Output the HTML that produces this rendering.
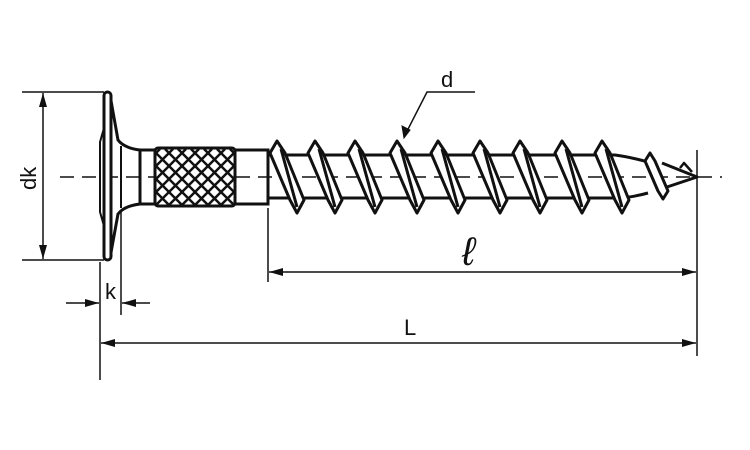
<!DOCTYPE html>
<html><head><style>
html,body{margin:0;padding:0;background:#fff;width:750px;height:450px;overflow:hidden}
svg{display:block}
text{font-family:"Liberation Sans",sans-serif;fill:#111}
</style></head><body>
<svg width="750" height="450" viewBox="0 0 750 450" xmlns="http://www.w3.org/2000/svg">
<defs>
<clipPath id="kc"><rect x="156" y="149" width="78" height="57"/></clipPath>
<marker id="a" viewBox="0 0 14 8" refX="14" refY="4" markerWidth="14" markerHeight="8" orient="auto" markerUnits="userSpaceOnUse"><path d="M0,0 L14,4 L0,8 Z" fill="#111"/></marker>
</defs>
<g stroke="#111" fill="none">
<line x1="60" y1="177" x2="722" y2="177" stroke-width="1.5" stroke-dasharray="14,8"/>
<!-- head -->
<path d="M110,95 L118,140 Q124,148 140,150" stroke-width="3"/>
<path d="M110,258 L118,214 Q124,206 140,204" stroke-width="3"/>
<line x1="121" y1="146" x2="121" y2="208" stroke-width="2"/>
<path d="M104,128 L100,142 L100,212 L104,226" stroke-width="2"/>
<rect x="104" y="92" width="7" height="168" rx="3.5" stroke-width="3" fill="#fff"/>
<!-- shank -->
<path d="M140,150 L155,150 M140,204 L155,204 M140,150 L140,204" stroke-width="3"/>
<rect x="155" y="148" width="80" height="58" rx="3" stroke-width="3" fill="#fff"/>
<g clip-path="url(#kc)" stroke-width="2.5">
<path d="M100,149 l60,60 M113,149 l60,60 M126,149 l60,60 M139,149 l60,60 M152,149 l60,60 M165,149 l60,60 M178,149 l60,60 M191,149 l60,60 M204,149 l60,60 M217,149 l60,60 M230,149 l60,60"/>
<path d="M290,149 l-60,60 M277,149 l-60,60 M264,149 l-60,60 M251,149 l-60,60 M238,149 l-60,60 M225,149 l-60,60 M212,149 l-60,60 M199,149 l-60,60 M186,149 l-60,60 M173,149 l-60,60 M160,149 l-60,60"/>
</g>
<path d="M235,150 L268,150 L268,204 L235,204" stroke-width="3"/>
<path d="M268,155 L615,155 Q630,157 648,162 M268,198 L615,198 Q630,198 648,193" stroke-width="3"/>
<g stroke-width="3" fill="#fff" stroke-linejoin="round">
<path d="M270,153 L277,141 L285,153 L304,200 L297,213 L290,200 Z M281,149 L297,207"/>
<path d="M308,153 L315,141 L323,153 L342,200 L335,213 L328,200 Z M319,149 L335,207"/>
<path d="M348,153 L355,141 L363,153 L382,200 L375,213 L368,200 Z M359,149 L375,207"/>
<path d="M390,153 L397,141 L405,153 L424,200 L417,213 L410,200 Z M401,149 L417,207"/>
<path d="M431,153 L438,141 L446,153 L465,200 L458,213 L451,200 Z M442,149 L458,207"/>
<path d="M473,153 L480,141 L488,153 L507,200 L500,213 L493,200 Z M484,149 L500,207"/>
<path d="M513,153 L520,141 L528,153 L547,200 L540,213 L533,200 Z M524,149 L540,207"/>
<path d="M555,153 L562,141 L570,153 L589,200 L582,213 L575,200 Z M566,149 L582,207"/>
<path d="M595,153 L602,141 L610,153 L629,200 L622,213 L615,200 Z M606,149 L622,207"/>
<path d="M662,163 L697,177 L664,188" stroke-width="3" fill="none"/>
<path d="M645,161 L650,153 L655,161 L668,191 L663,199 L658,191 Z"/>
<path d="M680,168 L684,163 L692,172" stroke-width="2.5" fill="none"/>
</g>
<g stroke-width="1.5">
<line x1="22" y1="92" x2="104" y2="92"/>
<line x1="22" y1="260" x2="104" y2="260"/>
<line x1="43" y1="120" x2="43" y2="93" marker-end="url(#a)"/>
<line x1="43" y1="230" x2="43" y2="259" marker-end="url(#a)"/>
<line x1="43" y1="120" x2="43" y2="230"/>
<line x1="100" y1="262" x2="100" y2="380"/>
<line x1="121" y1="210" x2="121" y2="315"/>
<line x1="66" y1="303" x2="99" y2="303" marker-end="url(#a)"/>
<line x1="150" y1="303" x2="122" y2="303" marker-end="url(#a)"/>
<line x1="268" y1="208" x2="268" y2="282"/>
<line x1="697" y1="150" x2="697" y2="356"/>
<line x1="480" y1="272" x2="269" y2="272" marker-end="url(#a)"/>
<line x1="480" y1="272" x2="696" y2="272" marker-end="url(#a)"/>
<line x1="400" y1="343" x2="101" y2="343" marker-end="url(#a)"/>
<line x1="400" y1="343" x2="696" y2="343" marker-end="url(#a)"/>
<path d="M475,92 L427,92 L404,137" />
</g>
<path d="M404,138 L402,126 L410,130 Z" fill="#111" stroke="#111" stroke-width="1"/>
</g>
<text x="441" y="87" font-size="22">d</text>
<text x="404" y="335" font-size="22">L</text>
<text x="105" y="299" font-size="22">k</text>
<text x="0" y="0" font-size="22" transform="translate(36,190) rotate(-90)">dk</text>
<text x="462" y="265" font-size="40" font-family="'DejaVu Serif',serif" font-style="italic">ℓ</text>
</svg>
</body></html>
